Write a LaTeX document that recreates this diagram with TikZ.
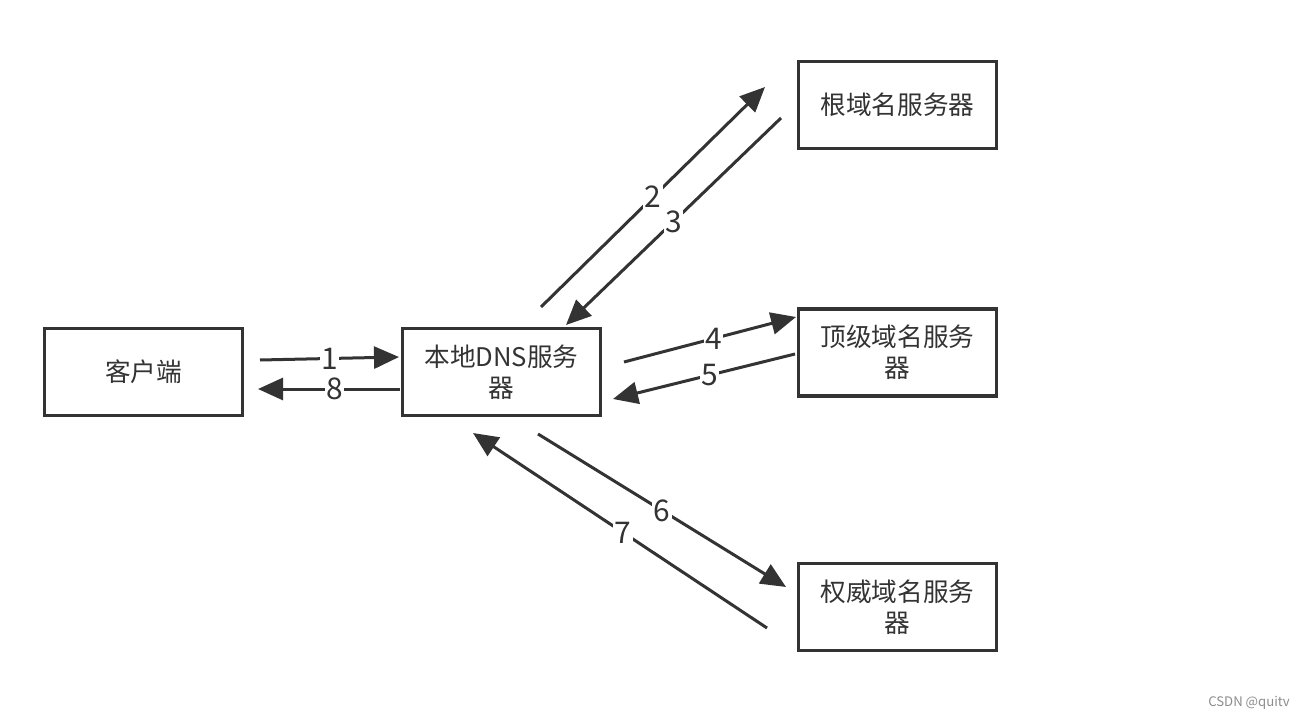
\documentclass[tikz,border=0pt]{standalone}
\usepackage{fontspec}
\setmainfont{Noto Sans CJK SC}
\usetikzlibrary{arrows.meta}
\definecolor{ink}{HTML}{333333}
\tikzset{
  box/.style={draw=ink, line width=0.065cm, minimum width=3.96cm, minimum height=1.74cm, align=center, text=ink, font=\fontsize{14.6}{17.6}\selectfont, inner sep=0pt},
  flow/.style={draw=ink, line width=0.06cm, -{Triangle[length=0.5cm, width=0.44cm]}},
  lbl/.style={fill=white, text=ink, inner sep=0.8pt, font=\fontsize{17}{17}\selectfont}
}
\begin{document}
\begin{tikzpicture}[x=0.02cm, y=-0.02cm]
\useasboundingbox (0,0) rectangle (1300,719);
\node[box] (client) at (143.5,372) {客户端};
\node[box] (dns) at (501.5,372) {本地DNS服务\\器};
\node[box] (root) at (897.5,105) {根域名服务器};
\node[box] (tld) at (897.5,352.5) {顶级域名服务\\器};
\node[box] (auth) at (897.5,607) {权威域名服务\\器};
% arrow endpoints
\coordinate (a1s) at (260,360); \coordinate (a1e) at (399,357);
\coordinate (a8s) at (400,389); \coordinate (a8e) at (258,389);
\coordinate (a2s) at (541,307); \coordinate (a2e) at (765,87);
\coordinate (a3s) at (781,118); \coordinate (a3e) at (566,325);
\coordinate (a4s) at (624,362); \coordinate (a4e) at (796,317);
\coordinate (a5s) at (795,354); \coordinate (a5e) at (613,399);
\coordinate (a6s) at (538,434); \coordinate (a6e) at (786,587);
\coordinate (a7s) at (767,628); \coordinate (a7e) at (473,433);
\draw[flow] (a1s) -- node[lbl, pos=0.5] {1} (a1e);
\draw[flow] (a8s) -- node[lbl, pos=0.46] {8} (a8e);
\draw[flow] (a2s) -- node[lbl, pos=0.5] {2} (a2e);
\draw[flow] (a3s) -- node[lbl, pos=0.5] {3} (a3e);
\draw[flow] (a4s) -- node[lbl, pos=0.52] {4} (a4e);
\draw[flow] (a5s) -- node[lbl, pos=0.47] {5} (a5e);
\draw[flow] (a6s) -- node[lbl, pos=0.5] {6} (a6e);
\draw[flow] (a7s) -- node[lbl, pos=0.49] {7} (a7e);
\node[text=black!45, font=\fontsize{7.5}{9}\selectfont, anchor=east] (wm) at (1296,703) {CSDN @quitv};
\end{tikzpicture}
\end{document}
